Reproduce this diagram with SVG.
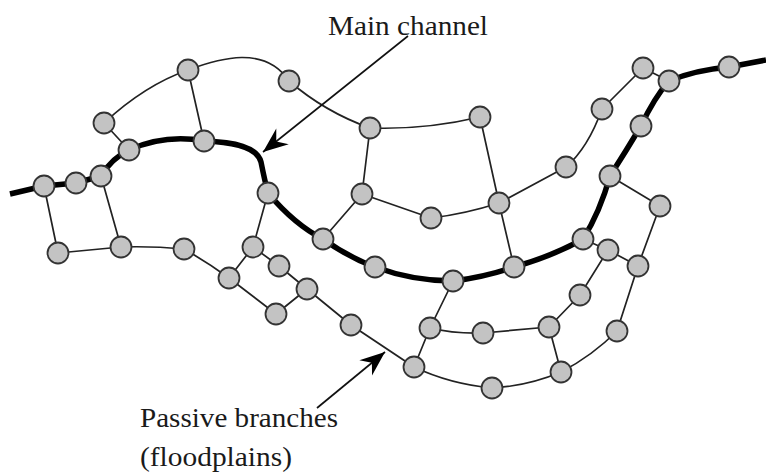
<svg xmlns="http://www.w3.org/2000/svg" width="766" height="474" viewBox="0 0 766 474">
<defs>
<style>
.edge{fill:none;stroke:#222;stroke-width:1.7;stroke-linecap:round}
.main{fill:none;stroke:#000;stroke-width:5.5;stroke-linejoin:round;stroke-linecap:butt}
.ptr{fill:none;stroke:#111;stroke-width:1.7}
.node circle{fill:#c3c3c3;stroke:#333;stroke-width:1.8}
.lbl{font-family:"Liberation Serif","Times New Roman",serif;font-size:27px;fill:#1a1a1a}
</style>
<marker id="arr" viewBox="-26 -11 27 22" refX="0" refY="0" markerWidth="27" markerHeight="22" markerUnits="userSpaceOnUse" orient="auto">
<path d="M0,0 L-25,-10 L-17,0 L-25,10 Z" fill="#000"/>
</marker>
</defs>
<rect width="766" height="474" fill="#fff"/>
<g id="connectors">
<path class="main" d="M10,194 L44,186 L76,183 L101,176 Q112,158 129,150 Q165,134 204,141 C235,142 257,147 261,162 Q265,182 268,193 Q295,225 323,239 Q348,257 375,267 Q413,281 453,281 Q485,277 514,267 Q553,256 583,239 Q600,212 610,176 Q626,151 641,126 Q654,98 669,81 Q695,70 729,67 L766,60"/>
<path class="edge" d="M104,123 L129,150"/>
<path class="edge" d="M104,123 Q145,85 188,70"/>
<path class="edge" d="M188,70 L204,141"/>
<path class="edge" d="M188,70 C220,58 265,45 289,81"/>
<path class="edge" d="M289,81 Q325,112 370,128"/>
<path class="edge" d="M370,128 Q425,130 480,117"/>
<path class="edge" d="M370,128 L362,194"/>
<path class="edge" d="M480,117 L499,203"/>
<path class="edge" d="M362,194 L323,239"/>
<path class="edge" d="M362,194 L431,218"/>
<path class="edge" d="M431,218 Q465,214 499,203"/>
<path class="edge" d="M499,203 L514,267"/>
<path class="edge" d="M499,203 L566,167"/>
<path class="edge" d="M566,167 Q588,148 602,109"/>
<path class="edge" d="M602,109 L643,68"/>
<path class="edge" d="M643,68 L669,81"/>
<path class="edge" d="M610,176 L660,206"/>
<path class="edge" d="M660,206 L638,266"/>
<path class="edge" d="M44,186 L58,253"/>
<path class="edge" d="M101,176 L121,247"/>
<path class="edge" d="M58,253 L121,247"/>
<path class="edge" d="M121,247 Q152,246 184,249"/>
<path class="edge" d="M184,249 Q207,262 229,278"/>
<path class="edge" d="M268,193 L253,247"/>
<path class="edge" d="M253,247 L229,278"/>
<path class="edge" d="M253,247 L279,266"/>
<path class="edge" d="M279,266 L307,289"/>
<path class="edge" d="M229,278 L276,314"/>
<path class="edge" d="M276,314 L307,289"/>
<path class="edge" d="M307,289 L351,325"/>
<path class="edge" d="M351,325 L414,367"/>
<path class="edge" d="M414,367 L430,328"/>
<path class="edge" d="M430,328 L453,281"/>
<path class="edge" d="M430,328 Q455,334 483,333"/>
<path class="edge" d="M483,333 Q516,330 549,327"/>
<path class="edge" d="M549,327 L580,295"/>
<path class="edge" d="M580,295 L608,250"/>
<path class="edge" d="M583,239 L608,250"/>
<path class="edge" d="M608,250 L638,266"/>
<path class="edge" d="M638,266 L617,331"/>
<path class="edge" d="M617,331 Q592,356 561,372"/>
<path class="edge" d="M549,327 L561,372"/>
<path class="edge" d="M561,372 Q528,386 492,388"/>
<path class="edge" d="M492,388 Q450,384 414,367"/>
<path class="ptr" d="M408,36 L263,152" marker-end="url(#arr)"/>
<path class="ptr" d="M317,408 L385,352" marker-end="url(#arr)"/>
</g>
<g id="n-m1" class="node"><circle cx="44" cy="186" r="10.5"/></g>
<g id="n-m2" class="node"><circle cx="76" cy="183" r="10.5"/></g>
<g id="n-m3" class="node"><circle cx="101" cy="176" r="10.5"/></g>
<g id="n-m4" class="node"><circle cx="129" cy="150" r="10.5"/></g>
<g id="n-m5" class="node"><circle cx="204" cy="141" r="10.5"/></g>
<g id="n-m6" class="node"><circle cx="268" cy="193" r="10.5"/></g>
<g id="n-m7" class="node"><circle cx="323" cy="239" r="10.5"/></g>
<g id="n-m8" class="node"><circle cx="375" cy="267" r="10.5"/></g>
<g id="n-m9" class="node"><circle cx="453" cy="281" r="10.5"/></g>
<g id="n-m10" class="node"><circle cx="514" cy="267" r="10.5"/></g>
<g id="n-m11" class="node"><circle cx="583" cy="239" r="10.5"/></g>
<g id="n-m12" class="node"><circle cx="610" cy="176" r="10.5"/></g>
<g id="n-m13" class="node"><circle cx="641" cy="126" r="10.5"/></g>
<g id="n-m14" class="node"><circle cx="669" cy="81" r="10.5"/></g>
<g id="n-m15" class="node"><circle cx="729" cy="67" r="10.5"/></g>
<g id="n-a" class="node"><circle cx="104" cy="123" r="10.5"/></g>
<g id="n-b" class="node"><circle cx="188" cy="70" r="10.5"/></g>
<g id="n-c" class="node"><circle cx="289" cy="81" r="10.5"/></g>
<g id="n-d" class="node"><circle cx="370" cy="128" r="10.5"/></g>
<g id="n-e" class="node"><circle cx="480" cy="117" r="10.5"/></g>
<g id="n-f" class="node"><circle cx="362" cy="194" r="10.5"/></g>
<g id="n-g" class="node"><circle cx="431" cy="218" r="10.5"/></g>
<g id="n-h" class="node"><circle cx="499" cy="203" r="10.5"/></g>
<g id="n-i" class="node"><circle cx="566" cy="167" r="10.5"/></g>
<g id="n-j" class="node"><circle cx="602" cy="109" r="10.5"/></g>
<g id="n-k" class="node"><circle cx="643" cy="68" r="10.5"/></g>
<g id="n-l" class="node"><circle cx="660" cy="206" r="10.5"/></g>
<g id="n-p1" class="node"><circle cx="58" cy="253" r="10.5"/></g>
<g id="n-p2" class="node"><circle cx="121" cy="247" r="10.5"/></g>
<g id="n-p3" class="node"><circle cx="184" cy="249" r="10.5"/></g>
<g id="n-p4" class="node"><circle cx="253" cy="247" r="10.5"/></g>
<g id="n-p5" class="node"><circle cx="229" cy="278" r="10.5"/></g>
<g id="n-p6" class="node"><circle cx="279" cy="266" r="10.5"/></g>
<g id="n-p7" class="node"><circle cx="307" cy="289" r="10.5"/></g>
<g id="n-p8" class="node"><circle cx="276" cy="314" r="10.5"/></g>
<g id="n-p9" class="node"><circle cx="351" cy="325" r="10.5"/></g>
<g id="n-p10" class="node"><circle cx="414" cy="367" r="10.5"/></g>
<g id="n-p11" class="node"><circle cx="430" cy="328" r="10.5"/></g>
<g id="n-p12" class="node"><circle cx="483" cy="333" r="10.5"/></g>
<g id="n-p13" class="node"><circle cx="549" cy="327" r="10.5"/></g>
<g id="n-p14" class="node"><circle cx="580" cy="295" r="10.5"/></g>
<g id="n-p15" class="node"><circle cx="608" cy="250" r="10.5"/></g>
<g id="n-p16" class="node"><circle cx="638" cy="266" r="10.5"/></g>
<g id="n-p17" class="node"><circle cx="617" cy="331" r="10.5"/></g>
<g id="n-p18" class="node"><circle cx="561" cy="372" r="10.5"/></g>
<g id="n-p19" class="node"><circle cx="492" cy="388" r="10.5"/></g>
<g id="labels">
<text class="lbl" x="328" y="35" textLength="160" lengthAdjust="spacingAndGlyphs">Main channel</text>
<text class="lbl" x="140" y="427" textLength="198" lengthAdjust="spacingAndGlyphs">Passive branches</text>
<text class="lbl" x="140" y="466" textLength="152" lengthAdjust="spacingAndGlyphs">(floodplains)</text>
</g>
</svg>
